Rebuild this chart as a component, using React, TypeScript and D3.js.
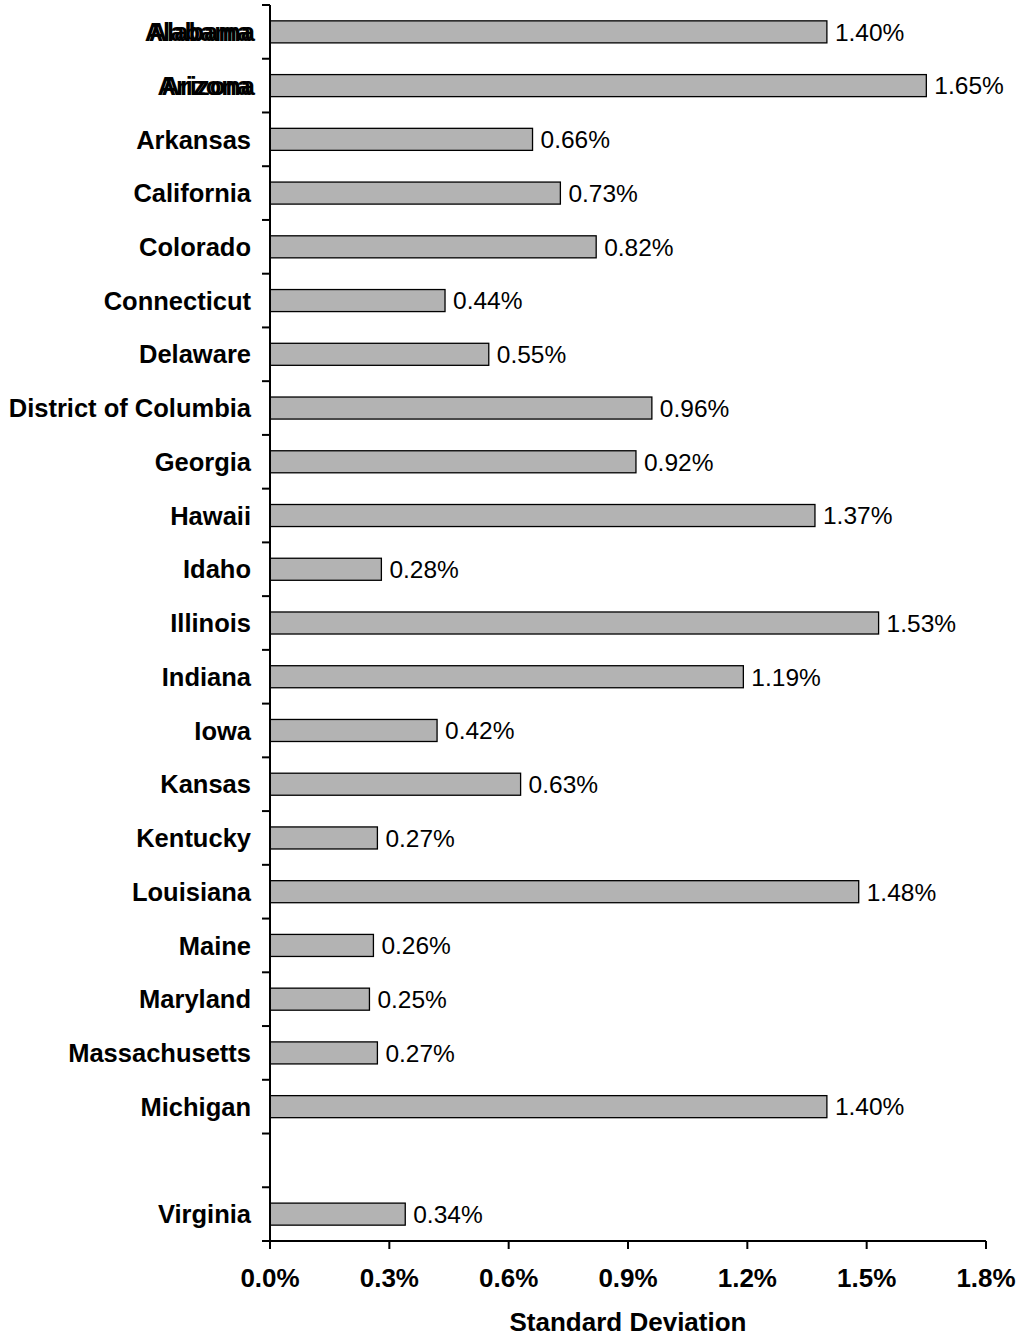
import * as d3 from "d3";

// values (standard deviation in %)
const states = [
  "Alabama", "Arizona", "Arkansas", "California", "Colorado", "Connecticut",
  "Delaware", "District of Columbia", "Georgia", "Hawaii", "Idaho", "Illinois",
  "Indiana", "Iowa", "Kansas", "Kentucky", "Louisiana", "Maine", "Maryland",
  "Massachusetts", "Michigan", "", "Virginia",
];
const stdDev = [
  1.40, 1.65, 0.66, 0.73, 0.82, 0.44, 0.55, 0.96, 0.92, 1.37, 0.28, 1.53,
  1.19, 0.42, 0.63, 0.27, 1.48, 0.26, 0.25, 0.27, 1.40, null, 0.34,
];
const xTicks = [0, 0.3, 0.6, 0.9, 1.2, 1.5, 1.8];
// these two labels are printed twice, slightly shifted, in the original
const doubledLabels = ["Alabama", "Arizona"];

const WIDTH = 1021;
const HEIGHT = 1337;
const M = { top: 5, bottom: 96, left: 270, right: 35 };
const FONT = "'Liberation Sans', Arial, sans-serif";

export default function App() {
  const innerW = WIDTH - M.left - M.right;
  const innerH = HEIGHT - M.top - M.bottom;

  const x = d3.scaleLinear().domain([0, 1.8]).range([0, innerW]);
  const y = d3
    .scaleBand<string>()
    .domain(states.map((s, i) => i + ":" + s))
    .range([0, innerH])
    .paddingInner(0.59)
    .paddingOuter(0.295);

  const keys = y.domain();
  const step = y.step();
  const bw = y.bandwidth();

  return (
    <svg
      width={WIDTH}
      height={HEIGHT}
      style={{ position: "absolute", left: 0, top: 0, display: "block", background: "#fff" }}
      fontFamily={FONT}
    >
      <g transform={`translate(${M.left},${M.top})`}>
        {keys.map((k, i) => {
          const v = stdDev[i];
          const name = states[i];
          const cy = (y(k) as number) + bw / 2;
          return (
            <g key={k}>
              {v != null && (
                <>
                  <rect
                    x={0}
                    y={y(k)}
                    width={x(v)}
                    height={bw}
                    fill="#b3b3b3"
                    stroke="#000"
                    strokeWidth={1.3}
                  />
                  <text
                    x={x(v) + 8}
                    y={cy}
                    dy="0.36em"
                    fontSize={24.5}
                    fill="#000"
                  >
                    {v.toFixed(2) + "%"}
                  </text>
                </>
              )}
              {doubledLabels.includes(name) && (
                <text
                  x={-19}
                  y={cy}
                  dy="0.36em"
                  textAnchor="end"
                  fontSize={25.5}
                  fontWeight="bold"
                >
                  {name}
                </text>
              )}
              <text
                x={-15}
                y={cy}
                dy="0.36em"
                textAnchor="end"
                fontSize={doubledLabels.includes(name) ? 25.5 : 25.5}
                fontWeight="bold"
                transform={doubledLabels.includes(name) ? undefined : "translate(-4,0)"}
              >
                {name}
              </text>
            </g>
          );
        })}

        {/* y axis */}
        <line x1={0} x2={0} y1={0} y2={innerH} stroke="#000" strokeWidth={2} />
        {d3.range(keys.length + 1).map((i) => (
          <line
            key={"yt" + i}
            x1={-8}
            x2={0}
            y1={i * step}
            y2={i * step}
            stroke="#000"
            strokeWidth={2}
          />
        ))}

        {/* x axis */}
        <g transform={`translate(0,${innerH})`}>
          <line x1={-8} x2={innerW} y1={0} y2={0} stroke="#000" strokeWidth={2} />
          {xTicks.map((t) => (
            <g key={t} transform={`translate(${x(t)},0)`}>
              <line y1={0} y2={8} stroke="#000" strokeWidth={2} />
              <text
                y={37}
                dy="0.36em"
                textAnchor="middle"
                fontSize={26}
                fontWeight="bold"
              >
                {t.toFixed(1) + "%"}
              </text>
            </g>
          ))}
          <text
            x={innerW / 2}
            y={81}
            dy="0.36em"
            textAnchor="middle"
            fontSize={26}
            fontWeight="bold"
          >
            Standard Deviation
          </text>
        </g>
      </g>
    </svg>
  );
}
